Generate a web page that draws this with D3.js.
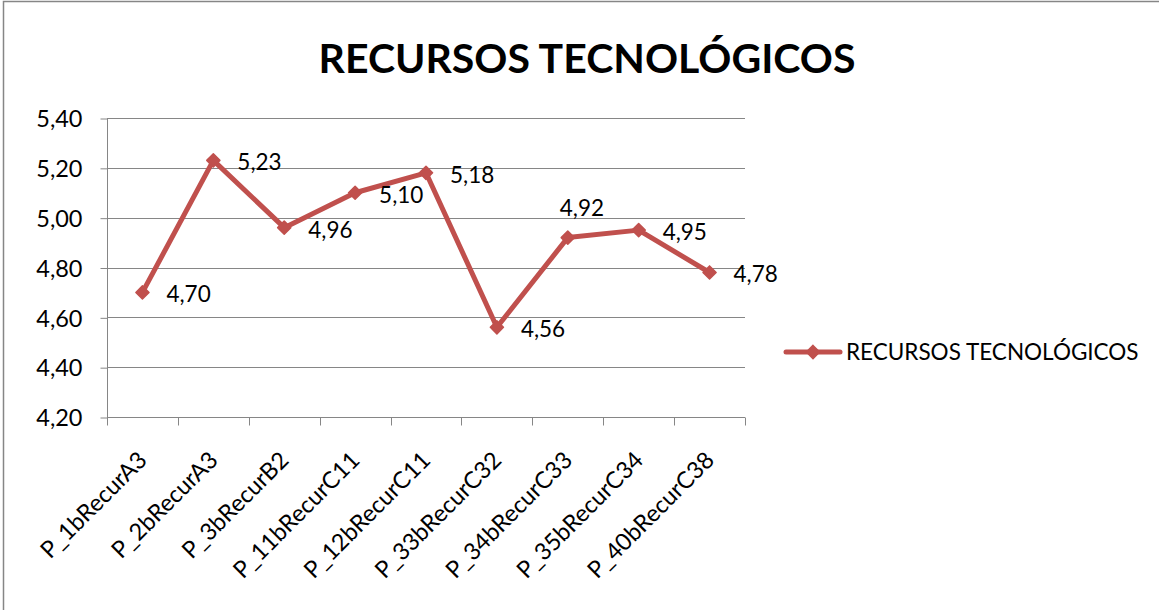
<!DOCTYPE html>
<html>
<head>
<meta charset="utf-8">
<script src="https://cdn.jsdelivr.net/npm/d3@7"></script>
<style>
  body { margin: 0; background: #fff; }
  svg text { font-family: Lato, "Open Sans", sans-serif; fill: #000; }
  .title { font-weight: bold; }
</style>
</head>
<body>
<div id="chart"></div>
<script>
// chart data
const categories = ["P_1bRecurA3", "P_2bRecurA3", "P_3bRecurB2", "P_11bRecurC11", "P_12bRecurC11",
                    "P_33bRecurC32", "P_34bRecurC33", "P_35bRecurC34", "P_40bRecurC38"];
const values = [4.70, 5.23, 4.96, 5.10, 5.18, 4.56, 4.92, 4.95, 4.78];
const yTicks = [4.20, 4.40, 4.60, 4.80, 5.00, 5.20, 5.40];
const labelPlacement = ["right", "right", "right", "right", "right", "right", "above", "right", "right"];
const seriesName = "RECURSOS TECNOLÓGICOS";
const chartTitle = "RECURSOS TECNOLÓGICOS";

const width = 1159, height = 610;
const plot = {left: 107, right: 745, top: 118, bottom: 417};
const lineColor = "#C0504D";
const gridColor = "#868686";

const locale = d3.formatLocale({decimal: ",", thousands: ".", grouping: [3], currency: ["", ""]});
const fmt = locale.format(".2f");

const svg = d3.select("#chart")
  .append("svg")
    .attr("width", width)
    .attr("height", height);

// outer chart border
svg.append("rect")
  .attr("x", 3.5).attr("y", 1.5)
  .attr("width", width + 10).attr("height", height + 10)
  .attr("fill", "none")
  .attr("stroke", gridColor)
  .attr("stroke-width", 1.5);

const x = d3.scaleBand()
  .domain(categories)
  .range([plot.left, plot.right]);

const y = d3.scaleLinear()
  .domain([4.2, 5.4])
  .range([plot.bottom, plot.top]);

// gridlines
svg.append("g")
  .selectAll("line")
  .data(yTicks)
  .join("line")
    .attr("x1", plot.left).attr("x2", plot.right)
    .attr("y1", d => Math.round(y(d)) + 0.5).attr("y2", d => Math.round(y(d)) + 0.5)
    .attr("stroke", gridColor);

// y axis
const yAxis = svg.append("g")
  .attr("transform", "translate(" + (plot.left + 0.5) + ",0.5)")
  .call(d3.axisLeft(y).tickValues(yTicks).tickFormat(fmt).tickSize(7).tickPadding(18));
yAxis.select(".domain").attr("stroke", gridColor).attr("d", "M0," + plot.top + "V" + (plot.bottom + 7));
yAxis.selectAll(".tick line").attr("stroke", gridColor);
yAxis.selectAll(".tick text")
  .attr("font-size", 23.5)
  .attr("font-family", "Lato")
  .attr("dy", "0.35em");

// x axis (ticks at band boundaries)
const xAxis = svg.append("g")
  .attr("transform", "translate(0," + (Math.round(plot.bottom) + 0.5) + ")");
xAxis.append("line")
  .attr("x1", plot.left).attr("x2", plot.right)
  .attr("stroke", gridColor);
xAxis.selectAll(".xt")
  .data(categories.concat([null]))
  .join("line")
    .attr("class", "xt")
    .attr("x1", (d, i) => Math.round(plot.left + i * x.step()) + 0.5)
    .attr("x2", (d, i) => Math.round(plot.left + i * x.step()) + 0.5)
    .attr("y1", 0).attr("y2", 8)
    .attr("stroke", gridColor);
xAxis.selectAll(".xl")
  .data(categories)
  .join("text")
    .attr("class", "xl")
    .attr("text-anchor", "end")
    .attr("font-size", 23.5)
    .attr("transform", d => "translate(" + (x(d) + x.bandwidth() / 2 + 6) + ",44) rotate(-45)")
    .text(d => d);

// line
const px = (d, i) => x(categories[i]) + x.bandwidth() / 2;
const line = d3.line()
  .x((d, i) => px(d, i))
  .y(d => y(d));

svg.append("path")
  .datum(values)
  .attr("d", line)
  .attr("fill", "none")
  .attr("stroke", lineColor)
  .attr("stroke-width", 5)
  .attr("stroke-linejoin", "round");

const diamond = d3.symbol().type(d3.symbolDiamond2).size(110);
svg.append("g")
  .selectAll("path")
  .data(values)
  .join("path")
    .attr("d", diamond)
    .attr("transform", (d, i) => "translate(" + px(d, i) + "," + y(d) + ")")
    .attr("fill", lineColor)
    .attr("stroke", lineColor)
    .attr("stroke-width", 1.5)
    .attr("stroke-linejoin", "round");

// data labels
svg.append("g")
  .selectAll("text")
  .data(values)
  .join("text")
    .attr("font-size", 22.5)
    .attr("x", (d, i) => labelPlacement[i] === "above" ? px(d, i) - 8 : px(d, i) + 24)
    .attr("y", (d, i) => labelPlacement[i] === "above" ? y(d) - 22 : y(d) + 10)
    .text(d => fmt(d));

// title
svg.append("text")
  .attr("class", "title")
  .attr("x", 587)
  .attr("y", 73)
  .attr("text-anchor", "middle")
  .attr("font-size", 41)
  .text(chartTitle);

// legend
const lg = svg.append("g").attr("transform", "translate(786,352)");
lg.append("line")
  .attr("x1", 0).attr("x2", 54)
  .attr("stroke", lineColor).attr("stroke-width", 5).attr("stroke-linecap", "round");
lg.append("path")
  .attr("d", diamond)
  .attr("transform", "translate(27,0)")
  .attr("fill", lineColor)
  .attr("stroke", lineColor).attr("stroke-width", 1.5);
lg.append("text")
  .attr("x", 60)
  .attr("y", 8)
  .attr("font-size", 22.5)
  .text(seriesName);
</script>
</body>
</html>
